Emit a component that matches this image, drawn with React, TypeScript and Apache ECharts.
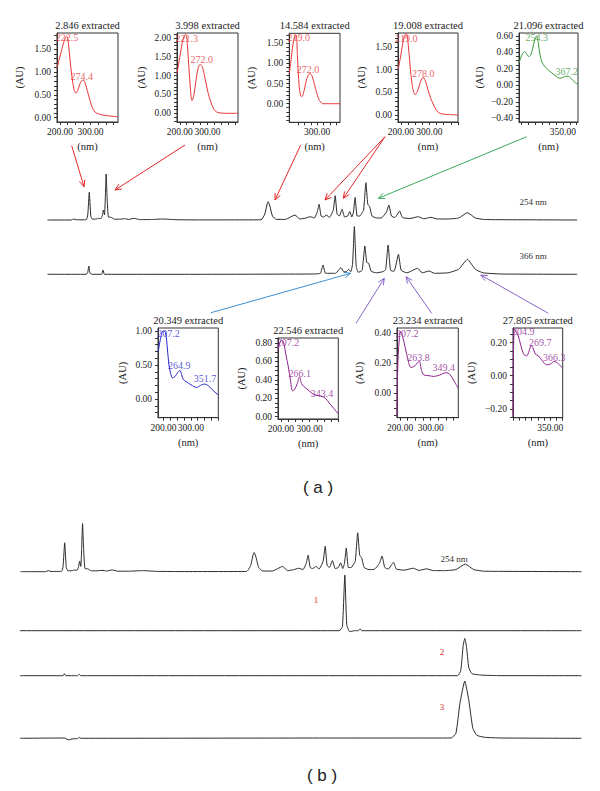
import React, { useEffect, useRef } from "react";
import * as echarts from "echarts";

// ---------- spectra (nm, AU) ----------
const spec2846 = [[190,1.08],[196,1.25],[204,1.45],[212,1.65],[218,1.76],[222.5,1.78],[227,1.65],[233,1.25],[240,0.85],[246,0.62],[252,0.54],[258,0.6],[265,0.74],[271,0.81],[276,0.82],[282,0.76],[290,0.58],[298,0.38],[306,0.22],[314,0.13],[324,0.09],[340,0.06],[360,0.04],[375,0.03],[390,0.02]];
const spec3998 = [[190,1.05],[198,1.4],[206,1.75],[214,2.02],[221.3,2.1],[227,1.85],[233,1.2],[239,0.6],[244,0.34],[250,0.45],[258,0.85],[266,1.2],[274,1.3],[282,1.22],[292,0.9],[302,0.55],[312,0.3],[322,0.12],[332,0.04],[345,0.01],[370,0],[410,0]];
const spec14584 = [[190,0.75],[197,1.1],[204,1.45],[211,1.68],[217,1.7],[222,1.2],[227,0.6],[234,0.2],[240,0.18],[248,0.32],[256,0.55],[264,0.7],[272,0.75],[280,0.68],[289,0.48],[298,0.27],[306,0.12],[314,0.04],[322,0.0],[390,0.0]];
const spec19008 = [[190,0.99],[198,1.25],[206,1.55],[213,1.75],[219,1.79],[225,1.6],[232,1.1],[240,0.65],[250,0.45],[258,0.52],[266,0.68],[273,0.8],[279,0.82],[286,0.75],[295,0.55],[305,0.36],[315,0.22],[325,0.1],[336,0.04],[350,0.02],[370,0.01],[400,0.0]];
const spec21096 = [[191,0.28],[197,0.34],[204,0.39],[211,0.41],[218,0.38],[226,0.35],[233,0.37],[240,0.45],[247,0.55],[254.3,0.6],[260,0.52],[266,0.38],[274,0.28],[284,0.23],[295,0.19],[310,0.15],[325,0.11],[339,0.085],[350,0.095],[360,0.11],[370,0.11],[380,0.08],[392,0.04],[405,0.01]];
const spec20349 = [[181,0.7],[190,0.9],[199,1.0],[207.2,0.98],[214,0.75],[220,0.5],[226,0.38],[233,0.31],[242,0.33],[252,0.39],[260,0.42],[266,0.36],[272,0.29],[285,0.25],[300,0.21],[321,0.17],[335,0.2],[350,0.22],[362,0.2],[375,0.15],[388,0.1],[400,0.06]];
const spec22546 = [[190,0.71],[196,0.8],[203,0.83],[210,0.8],[217,0.68],[226,0.54],[234,0.38],[241,0.28],[249,0.3],[257,0.36],[265,0.43],[272,0.36],[279,0.33],[295,0.29],[314,0.24],[330,0.23],[343.4,0.22],[355,0.2],[368,0.15],[384,0.09],[400,0.03]];
const spec23234 = [[190,-0.16],[191,0.05],[194,0.25],[198,0.37],[202,0.41],[209,0.37],[216,0.31],[226,0.22],[236,0.17],[248,0.18],[256,0.2],[263,0.21],[270,0.15],[278,0.12],[295,0.115],[310,0.11],[330,0.12],[350,0.135],[362,0.125],[376,0.08],[390,0.03]];
const spec27805 = [[200,-0.25],[201,0.05],[203,0.22],[205,0.28],[212,0.265],[221,0.24],[232,0.18],[243,0.13],[255,0.12],[265,0.15],[273,0.18],[280,0.17],[290,0.13],[302,0.12],[318,0.09],[335,0.066],[350,0.07],[366.3,0.086],[380,0.075],[400,0.045]];

// peak labels: [nm, label height AU]
const peaks2846 = [[222.5,1.748],[274.4,0.914]];
const peaks3998 = [[221.3,2.0],[272.0,1.416]];
const peaks14584 = [[219.0,1.64],[272.0,0.862]];
const peaks19008 = [[219.0,1.686],[278.0,0.916]];
const peaks21096 = [[254.3,0.584],[367.2,0.174]];
const peaks20349 = [[207.2,0.966],[264.9,0.49],[351.7,0.304]];
const peaks22546 = [[207.2,0.80],[266.1,0.464],[343.4,0.254]];
const peaks23234 = [[207.2,0.398],[263.8,0.235],[349.4,0.171]];
const peaks27805 = [[204.9,0.268],[269.7,0.2],[366.3,0.112]];

const specTitles = ["2.846 extracted","3.998 extracted","14.584 extracted","19.008 extracted","21.096 extracted","20.349 extracted","22.546 extracted","23.234 extracted","27.805 extracted"];

// ---------- chromatograms (min, signal) ----------
const chromA254 = [[0.15,0],[1.7,0],[1.89,1],[2.05,0.2],[2.7,0.3],[2.8,5],[2.9,27.7],[3.0,4],[3.1,0.8],[3.35,1],[3.53,1.7],[3.65,1.2],[3.75,4],[3.83,10],[3.9,5],[3.95,20],[4.01,46],[4.08,20],[4.16,3],[4.34,2.7],[4.55,0.8],[4.9,0.8],[5.22,1.3],[5.5,0.6],[5.85,1.7],[6.2,0.4],[7.0,0.5],[7.74,1],[8.6,0.3],[10,0.1],[14.2,0.2],[14.45,6],[14.6,16],[14.67,18.3],[14.78,14],[14.95,4],[15.2,0.6],[15.8,0.6],[16.43,5],[16.75,1],[17.1,1.8],[17.44,3.3],[17.7,2],[17.9,8],[18.02,15.7],[18.15,4],[18.3,3],[18.5,5],[18.7,2.5],[18.95,10],[19.08,24.3],[19.2,6],[19.35,4],[19.53,10.7],[19.7,3],[19.9,4],[20.04,8.5],[20.17,3],[20.28,8],[20.39,22.5],[20.52,4],[20.7,4],[20.85,7.3],[20.95,10],[21.1,37.3],[21.22,16],[21.35,13],[21.5,4],[21.8,2],[22.1,2],[22.45,8],[22.61,15],[22.78,4],[23.0,2.5],[23.32,9],[23.5,2.5],[24.0,1.5],[24.55,3.3],[24.9,1.2],[25.38,2.7],[25.8,1],[26.5,1],[27.2,2],[27.78,7.3],[28.3,2],[28.9,0.5],[30,0.3],[35,0]];
const chromA366 = [[0.15,0],[2.7,0],[2.8,2],[2.87,8.3],[2.95,1],[3.1,0],[3.7,0],[3.81,4.3],[3.9,0],[10,0],[17.5,0.3],[18.1,1],[18.28,9.3],[18.45,1],[19.1,1],[19.46,6.7],[19.65,2.5],[19.85,3],[19.97,5],[20.1,2.5],[20.22,10],[20.34,47.7],[20.46,8],[20.6,2],[20.85,4],[21.03,28.3],[21.15,12],[21.28,11],[21.45,3],[21.8,1.5],[22.23,2.7],[22.4,5],[22.56,29.3],[22.72,4],[22.95,3],[23.24,20],[23.42,4],[23.8,1.5],[24.5,6],[24.8,1.5],[25.26,3.3],[25.6,1],[26.5,1.5],[27.2,5],[27.78,15],[28.3,5],[28.8,1.5],[30,0.3],[35,0]];
const chromStd1 = [[0.12,0],[19.95,0],[20.15,4],[20.3,55.7],[20.42,6],[20.6,-1],[20.9,0],[21.15,0],[21.24,2],[21.35,0],[35,0]];
const chromStd2 = [[0.12,0],[2.8,0],[2.88,2],[2.96,0],[3.7,0],[3.81,1.5],[3.9,0],[27.3,0],[27.5,5],[27.65,30],[27.75,37.3],[27.85,30],[28.0,8],[28.2,2],[28.8,0.6],[29.8,0.1],[35,0]];
const chromStd3 = [[0.12,0],[2.9,0.3],[3.05,-1],[3.17,-1.5],[3.4,-0.5],[3.7,-0.3],[3.81,1],[3.9,0],[20,0.3],[26.9,0.3],[27.2,5],[27.45,35],[27.75,57.3],[28.0,38],[28.25,10],[28.5,3],[29,1],[30,0.3],[35,0]];

// ---------- styles / layout ----------
const SERIF = "Liberation Serif";
const RED = "#e8363a", GREEN = "#3a9a3a", BLUE = "#2a2ad0", PURPLE = "#8e2390";

const spectra = [
  { data: spec2846, peaks: peaks2846, color: RED },
  { data: spec3998, peaks: peaks3998, color: RED },
  { data: spec14584, peaks: peaks14584, color: RED },
  { data: spec19008, peaks: peaks19008, color: RED },
  { data: spec21096, peaks: peaks21096, color: GREEN },
  { data: spec20349, peaks: peaks20349, color: BLUE },
  { data: spec22546, peaks: peaks22546, color: PURPLE },
  { data: spec23234, peaks: peaks23234, color: PURPLE },
  { data: spec27805, peaks: peaks27805, color: PURPLE },
];

const specLayout = [
  { left: 57, top: 33, width: 61, height: 89, xMin: 190, xMax: 390, yMin: -0.094, yMax: 1.857, yLabels: [0, 0.5, 1, 1.5], yStep: 0.1, xLabels: [200, 300], nameGap: 32, dx: [0, -1] },
  { left: 177, top: 33, width: 61, height: 89, xMin: 190, xMax: 410, yMin: -0.231, yMax: 2.133, yLabels: [0, 0.5, 1, 1.5, 2], yStep: 0.1, xLabels: [200, 300], nameGap: 30, dx: [1, 2] },
  { left: 289.3, top: 33.3, width: 50.7, height: 89, xMin: 190, xMax: 390, yMin: -0.462, yMax: 1.75, yLabels: [0, 0.5, 1, 1.5], yStep: 0.1, xLabels: [200, 300], nameGap: 32, dx: [2, -2] },
  { left: 398, top: 33, width: 60, height: 89, xMin: 190, xMax: 400, yMin: -0.154, yMax: 1.806, yLabels: [0, 0.5, 1, 1.5], yStep: 0.1, xLabels: [200, 300], nameGap: 31, dx: [0, 0] },
  { left: 519, top: 33, width: 59, height: 89, xMin: 190, xMax: 405, yMin: -0.446, yMax: 0.636, yLabels: [-0.4, -0.2, 0, 0.2, 0.4, 0.6], yStep: 0.05, xLabels: [350], nameGap: 34, dx: [0, -1] },
  { left: 158, top: 328, width: 60.3, height: 89.7, xMin: 180, xMax: 400, yMin: -0.275, yMax: 1.044, yLabels: [0, 0.5, 1], yStep: 0.1, xLabels: [200, 300], nameGap: 30, dx: [3, -2, 0] },
  { left: 278, top: 338, width: 60.3, height: 81, xMin: 190, xMax: 400, yMin: -0.025, yMax: 0.854, yLabels: [0, 0.2, 0.4, 0.6, 0.8], yStep: 0.05, xLabels: [200, 300], nameGap: 31, dx: [5, 0, 0] },
  { left: 397, top: 328, width: 61.3, height: 89.7, xMin: 190, xMax: 390, yMin: -0.165, yMax: 0.433, yLabels: [0, 0.2, 0.4], yStep: 0.05, xLabels: [200, 300], nameGap: 32, dx: [5, -1, -2] },
  { left: 513, top: 328, width: 49.7, height: 89.7, xMin: 200, xMax: 400, yMin: -0.254, yMax: 0.288, yLabels: [-0.2, 0, 0.2], yStep: 0.05, xLabels: [350], nameGap: 36, dx: [9, 10, 0] },
];

const chroms = [
  { data: chromA254, left: 45.2, width: 532, top: 170, height: 53, yMin: -3, yMax: 50 },
  { data: chromA366, left: 45.2, width: 532, top: 224.3, height: 53, yMin: -3, yMax: 50 },
  { data: chromA254, left: 18, width: 563.5, top: 519.5, height: 55.3, yMin: -3, yMax: 50 },
  { data: chromStd1, left: 18, width: 563.5, top: 570.7, height: 63, yMin: -3, yMax: 60 },
  { data: chromStd2, left: 18, width: 563.5, top: 635.7, height: 43, yMin: -3, yMax: 40 },
  { data: chromStd3, left: 18, width: 563.5, top: 678.3, height: 63, yMin: -3, yMax: 60 },
];

const arrows = [
  { p: [71.7, 145.7, 84, 186.7], c: "#e5282a" },
  { p: [185, 145, 115, 190], c: "#e5282a" },
  { p: [300.7, 145, 275, 200], c: "#e5282a" },
  { p: [385, 136.7, 325, 200], c: "#e5282a" },
  { p: [385, 136.7, 343.3, 198.3], c: "#e5282a" },
  { p: [526.7, 136.7, 378.3, 198.3], c: "#3aaa5c" },
  { p: [211, 312.7, 350.6, 273.3], c: "#3d8fd1" },
  { p: [356, 323.3, 384.3, 278.3], c: "#8a63c8" },
  { p: [431.7, 313.3, 406.1, 276.7], c: "#8a63c8" },
  { p: [548.3, 313.3, 480.8, 275], c: "#8a63c8" },
];

const textLabels = [
  { t: "254 nm", x: 533, y: 202, size: 9, color: "#333", font: SERIF },
  { t: "366 nm", x: 533, y: 256, size: 9, color: "#333", font: SERIF },
  { t: "254 nm", x: 454, y: 559, size: 9, color: "#333", font: SERIF },
  { t: "1", x: 316, y: 600, size: 9, color: "#d9302c", font: SERIF },
  { t: "2", x: 442, y: 652, size: 9, color: "#d9302c", font: SERIF },
  { t: "3", x: 442, y: 707, size: 9, color: "#d9302c", font: SERIF },
  { t: "( a )", x: 318, y: 487, size: 17, color: "#222", font: "Liberation Sans" },
  { t: "( b )", x: 322, y: 775, size: 17, color: "#222", font: "Liberation Sans" },
];

function fmt(v: number) {
  const s = Math.abs(v).toFixed(2);
  return (v < -1e-9 ? "\u2212" : "") + s;
}
function steps(a: number, b: number, step: number) {
  const out: number[] = [];
  const start = Math.ceil(a / step - 1e-9);
  const end = Math.floor(b / step + 1e-9);
  for (let k = start; k <= end; k++) out.push(+(k * step).toFixed(6));
  return out;
}
function arrow(x1: number, y1: number, x2: number, y2: number, color: string) {
  const a = Math.atan2(y2 - y1, x2 - x1);
  const L = 7, s = 0.42;
  return {
    type: "group",
    children: [
      { type: "line", shape: { x1, y1, x2, y2 }, style: { stroke: color, lineWidth: 1 } },
      {
        type: "polyline",
        shape: { points: [[x2 - L * Math.cos(a - s), y2 - L * Math.sin(a - s)], [x2, y2], [x2 - L * Math.cos(a + s), y2 - L * Math.sin(a + s)]] },
        style: { stroke: color, fill: null, lineWidth: 1 },
      },
    ],
  };
}

function buildOption() {
  const grid: any[] = [], xAxis: any[] = [], yAxis: any[] = [], series: any[] = [], graphic: any[] = [];
  const tickText = { fontFamily: SERIF, fontSize: 9.5, color: "#222" };
  const nameText = { fontFamily: SERIF, fontSize: 10.5, color: "#222" };

  spectra.forEach((sp, i) => {
    const L = specLayout[i];
    grid.push({ left: L.left, top: L.top, width: L.width, height: L.height, show: true, borderColor: "#333", borderWidth: 1, backgroundColor: "transparent" });
    xAxis.push({
      gridIndex: i, type: "value", min: L.xMin, max: L.xMax,
      name: "(nm)", nameLocation: "middle", nameGap: 19, nameTextStyle: nameText,
      axisLine: { show: true, onZero: false, lineStyle: { color: "#333" } },
      axisTick: { show: true, length: 3, customValues: steps(L.xMin, L.xMax, 25), lineStyle: { color: "#333" } },
      axisLabel: { ...tickText, margin: 5, hideOverlap: false, customValues: L.xLabels, formatter: (v: number) => v.toFixed(2) },
      splitLine: { show: false },
    });
    yAxis.push({
      gridIndex: i, type: "value", min: L.yMin, max: L.yMax,
      name: "(AU)", nameLocation: "middle", nameRotate: 90, nameGap: L.nameGap, nameTextStyle: nameText,
      axisLine: { show: true, onZero: false, lineStyle: { color: "#333" } },
      axisTick: { show: true, length: 3, customValues: steps(L.yMin, L.yMax, L.yStep), lineStyle: { color: "#333" } },
      axisLabel: { ...tickText, margin: 6, hideOverlap: false, customValues: L.yLabels, formatter: (v: number) => fmt(v) },
      splitLine: { show: false },
    });
    series.push({
      type: "line", xAxisIndex: i, yAxisIndex: i, data: sp.data, showSymbol: false, smooth: 0.35,
      lineStyle: { color: sp.color, width: 1 }, z: 3, silent: true,
    });
    series.push({
      type: "scatter", xAxisIndex: i, yAxisIndex: i, clip: false, symbolSize: 1,
      itemStyle: { color: "rgba(0,0,0,0)" }, z: 4, silent: true,
      data: sp.peaks.map((p, k) => ({ value: p, label: { offset: [L.dx[k] || 0, 0] } })),
      label: { show: true, position: "inside", formatter: (p: any) => p.value[0].toFixed(1), color: sp.color, fontFamily: SERIF, fontSize: 10 },
    });
    graphic.push({
      type: "text", x: L.left + L.width / 2, y: L.top - 8,
      style: { text: specTitles[i], fontFamily: SERIF, fontSize: 10.5, fill: "#222", align: "center", verticalAlign: "middle" },
    });
  });

  chroms.forEach((c, j) => {
    const gi = spectra.length + j;
    grid.push({ left: c.left, top: c.top, width: c.width, height: c.height, show: false });
    xAxis.push({ gridIndex: gi, type: "value", min: 0, max: 35, show: false });
    yAxis.push({ gridIndex: gi, type: "value", min: c.yMin, max: c.yMax, show: false });
    series.push({
      type: "line", xAxisIndex: gi, yAxisIndex: gi, data: c.data, showSymbol: false, smooth: 0.15,
      lineStyle: { color: "#2a2a2a", width: 1 }, silent: true, z: 2,
    });
  });

  arrows.forEach((a) => graphic.push(arrow(a.p[0], a.p[1], a.p[2], a.p[3], a.c)));
  textLabels.forEach((t) =>
    graphic.push({
      type: "text", x: t.x, y: t.y,
      style: { text: t.t, fontFamily: t.font, fontSize: t.size, fill: t.color, align: "center", verticalAlign: "middle" },
    })
  );

  return { animation: false, backgroundColor: "#ffffff", grid, xAxis, yAxis, series, graphic };
}

export default function App() {
  const ref = useRef<HTMLDivElement>(null);
  useEffect(() => {
    if (!ref.current) return;
    const chart = echarts.init(ref.current, undefined, { renderer: "svg" });
    chart.setOption(buildOption() as any);
    return () => chart.dispose();
  }, []);
  return <div ref={ref} style={{ position: "absolute", left: 0, top: 0, width: 600, height: 791 }} />;
}
